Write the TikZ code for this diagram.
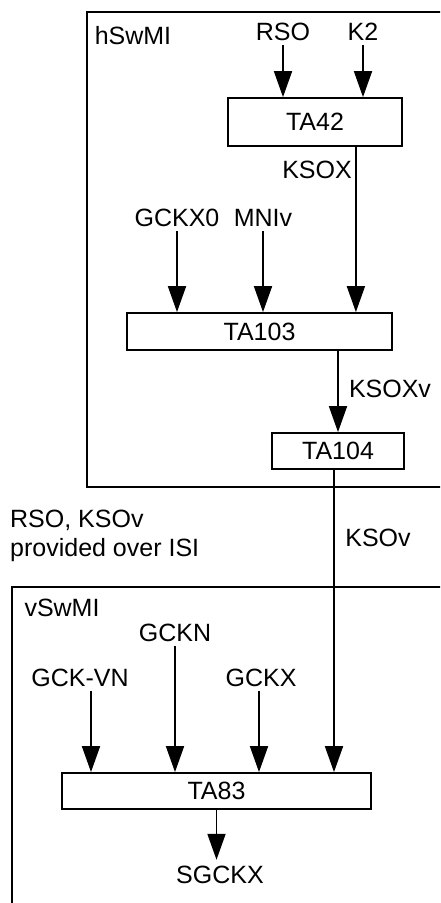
\documentclass[tikz,border=0pt]{standalone}
\usepackage{fontspec}
\setmainfont{Liberation Sans}
\definecolor{DiagBlack}{HTML}{000000}
\definecolor{DiagWhite}{HTML}{ffffff}
\usepackage{tikz}
\usetikzlibrary{arrows.meta, positioning, calc}
\tikzset{
    % Boxes for the algorithms
    algo box/.style={
        rectangle,
        draw=DiagBlack,
        fill=DiagWhite,
        line width=1.8pt,
        inner sep=0pt,
        align=center,
        font=\fontsize{25}{29}\selectfont
    },
    signal/.style={
        inner sep=1pt,
        text height=18pt,
        text depth=4pt,
        font=\fontsize{25}{29}\selectfont
    },
    frame/.style={
        draw=DiagBlack,
        line width=1.8pt
    },
    arrow style/.style={
        -{Triangle[length=26pt,width=18pt]},
        line width=1.8pt,
        DiagBlack
    }
}
\begin{document}
\begin{tikzpicture}[x=1pt, y=-1pt]
        \useasboundingbox (0,0) rectangle (440,903);
        \clip (0,0) rectangle (440,903);

        % hSwMI frame
        \draw[frame] (87,12) rectangle (460,487);
        \node[signal] (hswmi) at (133,37) {hSwMI};

        % Inputs of TA42
        \node[signal] (rso) at (283,33) {RSO};
        \node[signal] (k2) at (363,33) {K2};
        \node[algo box, minimum width=174pt, minimum height=48pt] (ta42) at (315,122) {TA42};
        \node[signal] (ksox) at (317,171) {KSOX};

        % Inputs of TA103
        \node[signal] (gckx0) at (177,219) {GCKX0};
        \node[signal] (mniv) at (263,219) {MNIv};
        \node[algo box, minimum width=265pt, minimum height=37pt] (ta103) at (259.5,331.5) {TA103};
        \node[signal] (ksoxv) at (390,390) {KSOXv};

        % TA104
        \node[algo box, minimum width=132pt, minimum height=36pt] (ta104) at (338,451) {TA104};

        % Over ISI
        \node[signal, text height=, text depth=, align=left, anchor=west] (isi) at (9,536) {RSO, KSOv\\provided over ISI};
        \node[signal] (ksov) at (378,539) {KSOv};

        % vSwMI frame
        \draw[frame] (12,587) rectangle (460,920);
        \node[signal] (vswmi) at (62,609) {vSwMI};

        % Inputs of TA83
        \node[signal] (gckn) at (175,634) {GCKN};
        \node[signal] (gckvn) at (80,679) {GCK-VN};
        \node[signal] (gckx) at (261,679) {GCKX};
        \node[algo box, minimum width=309pt, minimum height=36pt] (ta83) at (216.5,791) {TA83};
        \node[signal, inner sep=5pt] (sgckx) at (220,876) {SGCKX};

        % Arrows
        \draw[arrow style] (rso.south) -- (rso.south |- ta42.north);
        \draw[arrow style] (k2.south) -- (k2.south |- ta42.north);
        \draw[arrow style] ([xshift=-47pt]ta42.south east) -- ([xshift=-47pt]ta42.south east |- ta103.north);
        \draw[arrow style] (gckx0.south) -- (gckx0.south |- ta103.north);
        \draw[arrow style] (mniv.south) -- (mniv.south |- ta103.north);
        \draw[arrow style] (ta104.north |- ta103.south) -- (ta104.north);
        \draw[arrow style] ([xshift=-4pt]ta104.south) -- ([xshift=-4pt]ta104.south |- ta83.north);
        \draw[arrow style] ([xshift=11pt]gckvn.south) -- ([xshift=11pt]gckvn.south |- ta83.north);
        \draw[arrow style] (gckn.south) -- (gckn.south |- ta83.north);
        \draw[arrow style] ([xshift=-2pt]gckx.south) -- ([xshift=-2pt]gckx.south |- ta83.north);
        \draw[arrow style] (ta83.south) -- (ta83.south |- sgckx.north);
    \end{tikzpicture}
\end{document}
